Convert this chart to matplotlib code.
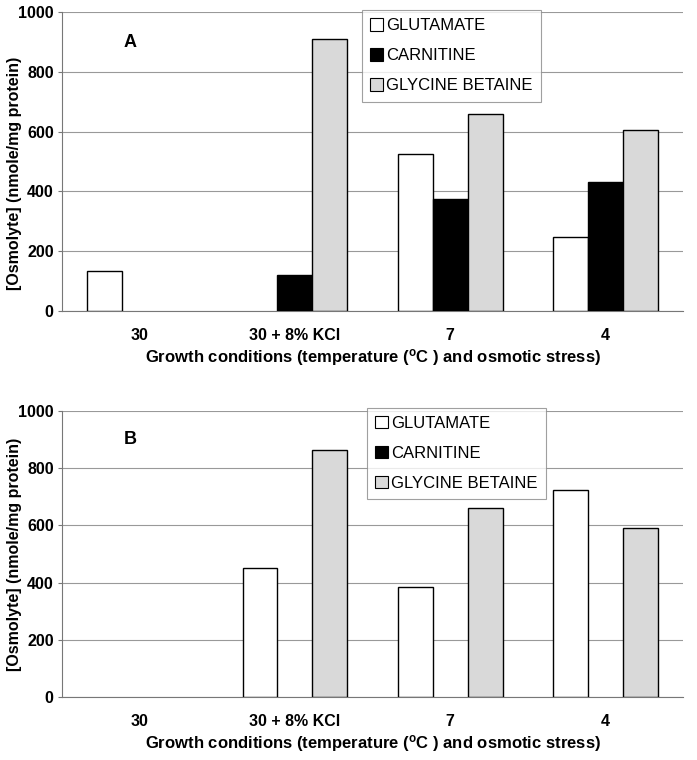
import matplotlib.pyplot as plt
import numpy as np

conditions = ["30", "30 + 8% KCl", "7", "4"]
osmolytes = ["GLUTAMATE", "CARNITINE", "GLYCINE BETAINE"]

# panel A
glutamate_a = [135, 0, 525, 248]
carnitine_a = [0, 120, 375, 430]
betaine_a = [0, 910, 660, 605]

# panel B
glutamate_b = [0, 450, 385, 725]
carnitine_b = [0, 0, 0, 0]
betaine_b = [0, 865, 660, 590]

colors = ["white", "black", "#d9d9d9"]
font = ["Liberation Sans", "DejaVu Sans"]

fig = plt.figure(figsize=(6.97, 7.6), dpi=100)


def draw_panel(rect, series, letter, legend_pos, label_y):
    ax = fig.add_axes(rect)
    x = np.arange(len(conditions))
    w = 0.225
    for i, vals in enumerate(series):
        v = np.array(vals, dtype=float)
        pos = x + (i - 1) * w
        mask = v > 0
        ax.bar(pos[mask], v[mask], width=w, color=colors[i], edgecolor="black",
               linewidth=1.0, label=osmolytes[i], zorder=3)
    ax.set_xlim(-0.5, 3.5)
    ax.set_ylim(0, 1000)
    ax.set_yticks(range(0, 1001, 200))
    ax.set_xticks(x)
    ax.set_xticklabels(conditions, family=font, fontweight="bold", fontsize=11.5)
    for t in ax.get_yticklabels():
        t.set_family(font)
        t.set_fontweight("bold")
        t.set_fontsize(11.5)
    ax.tick_params(axis="x", length=0, pad=12)
    ax.tick_params(axis="y", length=3, color="#777777", pad=3)
    ax.grid(axis="y", color="#999999", linewidth=0.8, zorder=0)
    for s in ["top", "right"]:
        ax.spines[s].set_visible(False)
    ax.spines["left"].set_color("#777777")
    ax.spines["bottom"].set_color("#777777")
    ax.set_ylabel("[Osmolyte] (nmole/mg protein)", family=font, fontweight="bold",
                  fontsize=11.5)
    ax.yaxis.set_label_coords(-0.065, label_y)
    ax.set_xlabel("Growth conditions (temperature ($\\mathregular{^{o}}$C ) and osmotic stress)",
                  family=font, fontweight="bold", fontsize=12, labelpad=3)
    ax.text(0.11, 0.9, letter, transform=ax.transAxes, fontsize=13,
            fontweight="bold", family=font, ha="center", va="center")
    handles = [plt.Rectangle((0, 0), 1, 1, facecolor=c, edgecolor="black", linewidth=0.8)
               for c in colors]
    leg = ax.legend(handles, osmolytes, loc="upper left", bbox_to_anchor=legend_pos,
                    frameon=True, fancybox=False, edgecolor="#888888",
                    handlelength=0.75, handleheight=0.75, handletextpad=0.2,
                    labelspacing=0.9, borderpad=0.5, borderaxespad=0,
                    prop={"family": font, "size": 12})
    leg.get_frame().set_linewidth(0.8)
    leg.set_zorder(5)
    return ax


draw_panel([0.089, 0.591, 0.891, 0.393], [glutamate_a, carnitine_a, betaine_a],
           "A", (0.483, 1.007), 0.46)
draw_panel([0.089, 0.083, 0.891, 0.376], [glutamate_b, carnitine_b, betaine_b],
           "B", (0.491, 1.012), 0.5)

fig.savefig("out.png", dpi=100, facecolor="white")
